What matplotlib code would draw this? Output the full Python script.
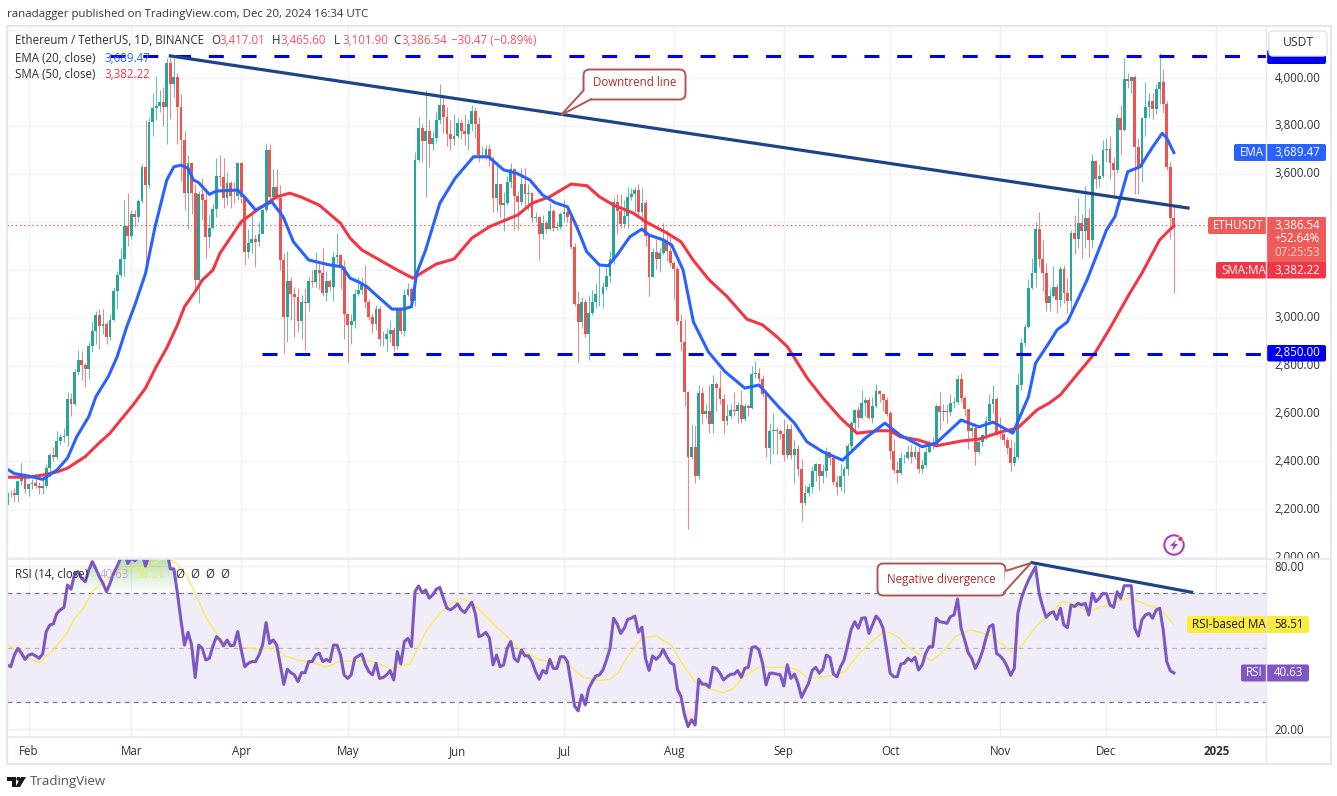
import datetime as dt
import matplotlib
matplotlib.use("Agg")
import matplotlib.pyplot as plt
import matplotlib.dates as mdates
import numpy as np
from matplotlib.patches import Rectangle, FancyBboxPatch, Polygon, Circle
from matplotlib.path import Path
from matplotlib.transforms import Bbox, ScaledTranslation

# ---------- daily data (Jan 26 .. Dec 20, 2024) ----------
closes = [
 2267,2268,2258,2317,2343,2283,
 2304,2310,2298,2290,2298,2373,2425,2420,2486,2503,2507,2660,2640,2775,2823,2803,2785,2880,2945,3012,2967,2972,2920,2990,3112,3177,3244,3384,3340,
 3433,3420,3487,3630,3555,3818,3875,3883,3900,3878,4063,3975,4006,3881,3742,3522,3645,3522,3157,3516,3490,3335,3375,3452,3590,3587,3500,3561,3510,3508,3645,
 3505,3275,3312,3330,3317,3350,3450,3700,3505,3545,3500,3240,3005,3155,3100,3085,2985,3065,3060,3155,3147,3200,3185,3105,3155,3130,3255,3260,3210,3014,
 2970,2988,3100,3117,3135,3065,3005,2975,3036,2910,2912,2930,2950,2880,3035,2945,3095,3120,3070,3660,3790,3737,3780,3725,3750,3825,3890,3840,3765,3745,3760,
 3815,3780,3765,3810,3865,3810,3680,3680,3705,3665,3500,3560,3470,3478,3565,3620,3510,3485,3560,3515,3520,3415,3420,3350,3395,3370,3445,3375,3380,3435,
 3440,3420,3296,3057,2982,3065,2931,3020,3065,3100,3100,3130,3175,3245,3485,3445,3390,3425,3505,3515,3535,3440,3480,3340,3170,3275,3245,3270,3320,3280,3230,
 3205,2985,2900,2690,2420,2460,2340,2685,2600,2610,2555,2725,2705,2660,2570,2590,2615,2610,2635,2575,2630,2625,2765,2770,2745,2680,2455,2525,2530,2525,2515,
 2425,2535,2425,2450,2370,2225,2270,2295,2360,2390,2340,2360,2440,2415,2315,2295,2340,2370,2465,2560,2615,2580,2645,2655,2580,2630,2695,2680,2658,2600,
 2445,2365,2350,2415,2415,2440,2420,2440,2370,2385,2440,2475,2470,2630,2605,2610,2605,2645,2650,2745,2665,2620,2525,2540,2440,2480,2510,2570,2640,2660,2520,
 2515,2490,2455,2395,2420,2720,2895,2960,3125,3185,3370,3245,3185,3060,3090,3130,3075,3205,3105,3070,3355,3330,3395,3360,3415,3325,3655,3580,3590,3700,
 3705,3645,3615,3835,3785,3996,3990,4005,3713,3630,3835,3880,3905,3870,3955,3985,3892,3628,3417,3386.54]
highs = [
 2275,2280,2290,2320,2393,2350,
 2310,2325,2325,2315,2335,2390,2435,2460,2525,2515,2540,2690,2685,2785,2865,2860,2810,2900,2985,3030,3035,3035,2985,3015,3130,3195,3290,3490,3520,
 3450,3450,3495,3640,3825,3840,3938,4010,3950,3965,4085,4090,4085,4020,3935,3780,3680,3615,3560,3530,3585,3540,3430,3480,3665,3680,3665,3610,3570,3565,3650,
 3650,3510,3370,3445,3350,3400,3455,3730,3725,3620,3620,3555,3270,3280,3170,3130,3125,3095,3125,3170,3200,3275,3230,3290,3195,3160,3275,3355,3265,3240,
 3020,3015,3120,3170,3170,3220,3080,3020,3055,3050,2945,2955,2990,2960,3045,3040,3120,3145,3130,3690,3840,3810,3950,3830,3780,3860,3975,3930,3880,3825,3850,
 3835,3830,3850,3830,3890,3880,3840,3715,3720,3720,3675,3655,3560,3525,3590,3645,3625,3530,3625,3625,3560,3525,3440,3425,3430,3410,3480,3455,3400,3440,
 3490,3465,3430,3310,3110,3085,3080,3095,3115,3145,3220,3150,3210,3280,3500,3515,3515,3490,3545,3540,3545,3560,3540,3490,3345,3290,3330,3290,3395,3365,3350,
 3235,3215,3015,2995,2695,2555,2550,2720,2710,2640,2720,2760,2730,2780,2680,2640,2640,2690,2650,2700,2645,2640,2800,2820,2790,2760,2700,2560,2600,2545,2535,
 2575,2555,2555,2490,2470,2410,2300,2310,2380,2395,2390,2390,2460,2425,2420,2340,2390,2380,2475,2570,2620,2630,2700,2670,2670,2670,2725,2700,2680,2670,
 2610,2495,2400,2440,2430,2470,2470,2465,2460,2410,2460,2490,2500,2640,2690,2640,2640,2680,2670,2760,2770,2675,2620,2560,2560,2490,2510,2590,2680,2720,2670,
 2585,2515,2500,2495,2480,2770,2915,2975,3160,3250,3400,3440,3325,3230,3125,3215,3140,3215,3220,3165,3365,3430,3500,3435,3550,3460,3683,3660,3640,3740,
 3750,3760,3670,3850,3890,4085,4023,4010,4012,3750,3840,3985,3940,3940,3975,4107,4040,3904,3650,3465.6]
lows = [
 2218,2250,2230,2232,2300,2270,
 2255,2285,2290,2265,2265,2290,2335,2400,2410,2470,2480,2465,2590,2630,2760,2740,2710,2745,2855,2890,2870,2930,2890,2905,2985,3035,3170,3175,3300,
 3330,3380,3400,3480,3200,3540,3760,3825,3860,3800,3725,3830,3920,3725,3570,3450,3370,3435,3120,3060,3410,3250,3290,3370,3420,3550,3460,3470,3460,3480,3490,
 3480,3220,3250,3270,3210,3300,3380,3440,3480,3480,3490,3200,2852,2900,2990,2920,2940,2910,2865,3030,3130,3130,3120,3090,3070,3110,3070,3230,3120,2910,
 2815,2890,2955,3090,3100,3040,2990,2935,2950,2880,2880,2860,2900,2860,2870,2930,2925,3090,3050,3050,3650,3650,3505,3630,3700,3730,3810,3770,3715,3700,3720,
 3750,3745,3720,3700,3780,3750,3650,3665,3660,3635,3440,3440,3420,3360,3470,3540,3365,3365,3470,3460,3450,3400,3400,3240,3330,3355,3365,3360,3365,3370,
 3400,3400,3285,3050,2815,2955,2920,2825,3010,3040,3050,3040,3115,3150,3225,3350,3375,3375,3375,3490,3440,3420,3400,3300,3090,3170,3205,3190,3265,3235,3215,
 3080,2975,2860,2630,2118,2410,2310,2325,2555,2580,2520,2520,2610,2640,2520,2550,2580,2590,2560,2560,2570,2590,2620,2750,2730,2670,2420,2390,2430,2430,2495,
 2400,2415,2410,2310,2340,2150,2220,2255,2270,2320,2280,2310,2335,2385,2300,2260,2275,2270,2345,2445,2530,2540,2575,2590,2575,2560,2625,2650,2610,2590,
 2410,2350,2310,2345,2395,2405,2395,2410,2350,2350,2375,2435,2450,2465,2530,2570,2560,2590,2625,2640,2650,2590,2452,2500,2385,2430,2465,2490,2555,2600,2505,
 2495,2470,2430,2358,2380,2410,2700,2880,2955,3120,3130,3210,3110,3030,3030,3085,3020,3045,3060,3020,3030,3265,3290,3250,3290,3255,3290,3540,3545,3585,
 3650,3580,3500,3605,3680,3780,3960,3940,3515,3515,3565,3760,3840,3830,3850,3892,3855,3615,3330,3101.9]
first_open = 2220
rsi_vals = [
 43.5,42.9,47.2,49.7,47.9,45.6,
 47.2,47.6,46.9,46,47.6,55.9,58.3,58.7,62.6,63.9,64.8,73.1,71.5,77.1,78,75.5,74.3,78.6,81.7,79,76.1,73.7,70.6,73.7,77.4,80,83,85,81,
 83,82,83.5,85,80,84,85,86,86,85,86,79,79,70,60,50.9,55.6,50.9,38.9,50.9,49.7,45.4,46,50.5,54,52.8,50.6,52.8,50.6,50.9,55.9,
 49.1,42.9,44.2,44.8,44.8,47.2,50.9,59.2,51.5,52.8,50.9,43.6,36.4,42,40.7,39.9,37.4,40.7,40.7,44.8,44.8,47.2,47.9,44.8,45.6,44.8,50.9,50.9,47.2,39.9,
 38.6,39.9,46,46.9,47.6,43.6,41.1,39.9,44.2,38.6,38.9,39.9,41.5,38,48.5,43.9,52.2,53.4,50.3,70.6,72.7,70.2,71.2,68.2,69.4,71.5,72.2,68.2,64.5,63.9,64.8,
 66.1,63.9,62.9,64.8,66.7,62.6,54,54.6,55.6,53.4,43.6,47.2,42.9,43.6,49.7,52.2,46,44.8,49.1,46.9,46.9,44.8,41.1,38.3,41.5,40.5,45.6,42.3,42.3,46.6,
 46.6,44.8,36.8,28.4,26.6,32.5,28.8,34.9,37.4,39.5,39.9,41.7,45.4,49.7,60.8,58.7,55.2,57.1,60.4,60.8,61.6,55.6,57.5,46,41.5,46.9,45.6,46.9,49.3,46.6,44.4,
 43.6,34.6,31.9,25.1,20.8,23.3,21.4,38.3,36.5,36.5,35.3,42.7,42.3,40.5,38,39.2,40.1,40.2,41.5,39,42.3,42.7,50,50.3,49.1,44.2,36.2,40.5,40.5,40.2,39.9,
 35.8,43.6,38.6,40.2,36.8,31.6,34.3,36.8,41.5,42.7,40.5,42,47.2,46.4,40.2,39.2,42.9,45.4,50.9,56.7,59.5,57.1,60.8,61,55.2,58.3,61.6,60.2,57.1,49.1,
 40.5,39.2,39.2,43.9,44.2,46,45,46.4,41.7,43.5,47.8,50.3,50.3,60.8,59.5,59.3,58.9,61.4,62,67.9,57.1,52.8,48.1,46,42.3,44.8,48.5,53.4,57.7,58.4,47.8,
 46.9,45.4,42.9,39.7,42.3,62.6,68.2,71.8,74.9,77.4,79.8,70,65.1,61.1,62.6,63.2,60.4,64.5,58.3,57.3,65.7,65.1,66.3,65.7,66.3,62,70,66.9,68.2,70,
 69.8,65.7,64.8,70.6,68.2,72.8,72.8,72.8,57.1,54.2,60.2,62,62.6,60.8,63.8,64.5,56.5,44.8,41.4,40.63]

# moving averages, read at selected days (days counted from Feb 1, 2024)
ema_days = [-6,-4,0,4,8,11,13.6,17,19,22.5,25,27.7,30,33,35.7,39,41,43,45,46.5,48,51,53,59,61,64,68.6,71.8,74.7,79,85,88.4,90.7,93,95.4,98,102.5,105.7,108,109.5,112,116,120.3,125.5,129.7,134,137.7,141.4,145,148.5,152,154.6,157.4,161,163.5,166,169.6,173,175,179,181.4,184.6,187.5,191.7,196.4,202,206,211.9,216,219.5,224,229.6,236,241.5,245.8,252,256,263,268,272,277.6,282,284,288,290,293,298.5,304,306.4,310,313.5,316.8,319.7,321,323]
ema_vals = [2368,2349,2339,2325,2364,2414,2503,2587,2670,2754,2837,2962,3053,3185,3380,3575,3630,3637,3624,3575,3564,3515,3529,3533,3503,3450,3484,3422,3317,3241,3220,3213,3165,3150,3130,3095,3036,3036,3046,3186,3283,3478,3582,3672,3672,3617,3603,3575,3512,3480,3463,3380,3276,3220,3217,3262,3338,3370,3345,3325,3303,3199,2983,2858,2775,2706,2719,2622,2560,2482,2440,2405,2497,2560,2510,2461,2477,2573,2544,2564,2518,2670,2810,2900,2948,2983,3157,3366,3422,3610,3630,3708,3770,3750,3689.47]
sma_days = [-6,0,4,8,11,16,20,23,26,29.5,33,36,39,42,44,47,49,52,54,60,64.5,70,73.7,77,82,88,90.7,94,104,108.4,115,120,125,130,138,142,147,153,157.5,161,165,170.5,174.5,180,184,187.4,192,197,202.6,207,211,214,219.6,224,229,233.6,240,243,245.8,251,256,263,268,274,279,284.4,288,291,295,300.8,305,310.6,314,319,322,323]
sma_vals = [2334,2334,2343,2356,2372,2420,2478,2518,2573,2636,2706,2795,2874,2970,3046,3109,3157,3199,3269,3401,3450,3505,3520,3503,3470,3394,3332,3283,3199,3165,3224,3245,3332,3380,3429,3478,3505,3558,3551,3505,3470,3437,3397,3354,3317,3241,3157,3088,2994,2970,2921,2879,2748,2665,2581,2518,2528,2528,2503,2489,2465,2485,2493,2522,2540,2615,2645,2678,2750,2853,2957,3103,3186,3325,3370,3382.22]
rsi_ma_days = [-6,-2.4,0,3.2,7,10.8,13,15.5,18.3,22,25.8,29.6,33.3,37,39,41.8,44.6,47,50.2,53,55.9,59.7,64.4,69.5,72.8,76.5,80.3,84,87.8,91.6,95.3,98.2,102,107.6,112.3,116,118.8,121.7,125,128.2,132,134.8,137.6,140.5,143.8,147,151.7,156.4,161,164,166.3,168.6,172.9,177,181.3,184.6,187.9,192.2,196,198.8,201.6,206.3,210,213.8,216.6,219.9,224.1,228,230.2,233.5,238.2,241.5,243.4,245.7,246.8,251.5,254.7,258,261.3,265.5,271,274.9,277.6,280.6,284.4,288,291.4,294.7,298.9,304,310.7,315.4,319,323]
rsi_ma_vals = [51.3,47.9,46,44.4,49.1,55.2,60.8,64.5,71.2,74.9,78,79.2,79.8,82.3,83,81,76.8,70,60.8,55.2,50.6,50.3,49.3,49.9,46.6,45.2,44.4,42.7,45,45,45.4,44.4,42,43.9,56.5,62.6,65.7,68.2,66.6,62.6,57.5,54.3,50.3,48.1,45.6,44.8,44.2,39,37.8,38.3,40.7,46,53.4,54.3,50.7,43.6,37.4,34.7,33.3,34.9,39.2,42.9,42.7,42.7,42,38.6,39.2,39.9,41.1,46.6,52.8,55.9,55.2,53.4,51.5,47.2,45.1,48.5,54,56.5,54.6,50.9,47.8,51.5,58.3,62,66.9,66.3,63.2,65.7,68.4,65.7,64.5,58.51]

price_ticks = [2000,2200,2400,2600,2800,3000,3200,3400,3600,3800,4000,4200]
hidden_price_labels = [3200,3400,4200]
rsi_ticks = [20,80]
month_ticks = ["2024-02-01","2024-03-01","2024-04-01","2024-05-01","2024-06-01","2024-07-01","2024-08-01","2024-09-01","2024-10-01","2024-11-01","2024-12-01","2025-01-01"]
month_labels = ["Feb","Mar","Apr","May","Jun","Jul","Aug","Sep","Oct","Nov","Dec","2025"]
top_level = 4093
support_level = 2850
last_close = 3386.54

# ---------- set-up ----------
W, H = 1337, 796
plt.rcParams['font.family'] = ['Open Sans', 'DejaVu Sans']
plt.rcParams['lines.scale_dashes'] = False
fig = plt.figure(figsize=(W/100, H/100), dpi=100, facecolor='white')

def box(x0, y0, x1, y1):
    return [x0/W, 1-y1/H, (x1-x0)/W, (y1-y0)/H]

UP, DOWN = '#26a69a', '#ef5350'
GRID = '#f2f3f7'
BLUE, RED = '#2962ff', '#f23645'
NAVY = '#1c4587'
PURPLE = '#7e57c2'
TXT = '#2a2e39'
FS = 8.3

base = mdates.date2num(dt.date(2024, 2, 1))
n = len(closes)
days = np.arange(n) - 6 + base
opens = [first_open] + closes[:-1]
X0 = base + (7-28.5)/3.546
X1 = base + (1266-28.5)/3.546
ticks_x = [mdates.date2num(dt.date.fromisoformat(d)) for d in month_ticks]

ax = fig.add_axes(box(7, 26, 1266, 558))
ar = fig.add_axes(box(7, 559, 1266, 736.5))

# ---------- price pane ----------
ax.set_xlim(X0, X1)
ax.set_ylim(4000-(558-78.2)/0.2395, 4000+(78.2-26)/0.2395)
ax.set_xticks(ticks_x)
ax.tick_params(axis='x', length=0, labelbottom=False)
ax.set_yticks(price_ticks)
ax.set_yticklabels(["" if v in hidden_price_labels else f"{v:,.2f}" for v in price_ticks], fontsize=FS, color=TXT)
ax.yaxis.tick_right()
ax.tick_params(axis='y', length=0, pad=6)
ax.grid(True, color=GRID, lw=1)
ax.set_axisbelow(True)
for s in ax.spines.values():
    s.set_visible(False)
for tl in ax.get_yticklabels():
    tl.set_transform(tl.get_transform() + ScaledTranslation(0, 1.2/72, fig.dpi_scale_trans))
    tl.set_clip_on(True)
    tl.set_clip_box(Bbox([[1267, H-558.5], [1330, H-26]]))

cols = [UP if c >= o else DOWN for o, c in zip(opens, closes)]
ax.vlines(days, lows, highs, colors=cols, lw=0.75, alpha=0.7, zorder=2)
ax.bar(days, np.abs(np.array(closes)-np.array(opens)), bottom=np.minimum(opens, closes),
       width=0.8, color=cols, lw=0, zorder=3)
ax.axhline(last_close, color=DOWN, lw=0.8, ls=(0, (1, 2)), zorder=2)
ax.plot(base+np.array(sma_days), sma_vals, color=RED, lw=2.2, zorder=4, solid_joinstyle='round')
ax.plot(base+np.array(ema_days), ema_vals, color=BLUE, lw=2.2, zorder=4, solid_joinstyle='round')
ax.plot([base+23, X1], [top_level]*2, color='#0000e6', lw=2.2, ls=(0, (10.8, 12.8)), dash_capstyle='butt', zorder=5)
ax.plot([base+65.8, X1], [support_level]*2, color='#0000e6', lw=2.2, ls=(0, (10.8, 12.8)), dash_capstyle='butt', zorder=5)
ax.plot([base+40, base+327], [top_level, 3458], color=NAVY, lw=2.3, zorder=5)

# ---------- RSI pane ----------
rsi = np.array(rsi_vals)
ar.set_xlim(X0, X1)
ar.set_ylim(80-(736.5-566.2)/2.71, 80+(566.2-559)/2.71)
ar.axhspan(30, 70, color=PURPLE, alpha=0.10, lw=0, zorder=0)
ar.set_xticks(ticks_x)
ar.set_xticklabels(month_labels, fontsize=FS, color=TXT)
ar.get_xticklabels()[-1].set_fontweight('bold')
ar.tick_params(axis='x', length=0, pad=6)
ar.set_yticks(rsi_ticks)
ar.set_yticklabels([f"{v:.2f}" for v in rsi_ticks], fontsize=FS, color=TXT)
ar.yaxis.tick_right()
ar.tick_params(axis='y', length=0, pad=6)
ar.grid(True, color='#eeeff4', lw=1)
ar.set_axisbelow(True)
for lvl in (40, 60):
    ar.axhline(lvl, color='#eeeff4', lw=1, zorder=0.5)
for s in ar.spines.values():
    s.set_visible(False)
for lvl, c in ((70, '#787b86'), (30, '#787b86'), (50, '#b4b6bd')):
    ar.axhline(lvl, color=c, lw=0.9, ls=(0, (3.5, 3)), zorder=1)

def gradient(top, bottom, rgb, a_top, a_bot, lower, upper):
    poly = ar.fill_between(days, lower, upper, color='none', lw=0)
    path = Path.make_compound_path(*poly.get_paths())
    g = np.zeros((64, 2, 4))
    g[..., :3] = rgb
    g[..., 3] = np.linspace(a_top, a_bot, 64)[:, None]
    im = ar.imshow(g, extent=(X0, X1, bottom, top), aspect='auto', zorder=1, origin='upper', interpolation='bilinear')
    im.set_clip_path(path, transform=ar.transData)

gradient(85, 70, (0.30, 0.69, 0.31), 0.50, 0.0, 70, np.maximum(rsi, 70))
gradient(30, 20, (0.95, 0.25, 0.25), 0.0, 0.30, np.minimum(rsi, 30), 30)
ar.set_xlim(X0, X1)
ar.set_ylim(80-(736.5-566.2)/2.71, 80+(566.2-559)/2.71)

ar.plot(base+np.array(rsi_ma_days), rsi_ma_vals, color='#fde95c', lw=1.0, zorder=3)
ar.plot(days, rsi, color=PURPLE, lw=2.2, zorder=4, solid_joinstyle='round')
ar.plot([base+283, base+328], [81.3, 70.4], color=NAVY, lw=2.3, zorder=5)

# ---------- overlay in pixels: frame, labels, notes ----------
ov = fig.add_axes([0, 0, 1, 1], zorder=10)
ov.set_xlim(0, W)
ov.set_ylim(H, 0)
ov.axis('off')
ov.patch.set_alpha(0)

FRAME = '#e6e8f0'
ov.add_patch(Rectangle((7, 25.5), 1324, 738, fc='none', ec=FRAME, lw=1.6))
ov.plot([7, 1331], [558.5, 558.5], color=FRAME, lw=1.2)
ov.plot([7, 1331], [737, 737], color=FRAME, lw=1.2)
ov.plot([1266, 1266], [25.5, 764], color=FRAME, lw=1.0)

def label(x0, y0, x1, y1, color, **kw):
    ov.add_patch(FancyBboxPatch((x0+2, y0+2), x1-x0-4, y1-y0-4,
                                boxstyle="round,pad=2,rounding_size=2", fc=color, ec='none', **kw))

def t(x, y, s, color=TXT, size=FS, ha='left', **kw):
    ov.text(x, y, s, color=color, fontsize=size, ha=ha, va='center', **kw)

# header
t(7, 14, "ranadagger published on TradingView.com, Dec 20, 2024 16:34 UTC", color='#333742', size=FS-0.05)
t(15, 41, "Ethereum / TetherUS, 1D, BINANCE")
VAL = '#f7525f'
for x, k, v in ((211, "O", "3,417.01"), (272, "H", "3,465.60"), (334, "L", "3,101.90"), (393, "C", "3,386.54")):
    t(x, 41, k)
    t(x+8, 41, v, color=VAL)
t(451, 41, "−30.47 (−0.89%)", color=VAL)
t(15, 58, "EMA (20, close)")
t(104, 58, "3,689.47", color=BLUE)
t(15, 75, "SMA (50, close)")
t(104, 75, "3,382.22", color=RED)
t(15, 574, "RSI (14, close)")
t(100, 574, "40.63", color='#b7a5e0')
t(135, 574, "58.51", color='#f7e95a')
for x in (175, 190, 205, 220):
    t(x, 574, "Ø")

# right-hand labels
label(1267, 50, 1326, 64, '#0000ee')
ov.add_patch(FancyBboxPatch((1271, 33), 54, 21, boxstyle="round,pad=2,rounding_size=4", fc='white', ec='#e0e3eb', lw=1))
t(1298, 43, "USDT", ha='center', size=FS+0.4)
label(1234, 144, 1326, 161, BLUE)
t(1240, 152.5, "EMA", color='white')
t(1274, 152.5, "3,689.47", color='white')
label(1208, 217, 1326, 234, '#ef5b58')
label(1266, 217, 1326, 264, '#ef5b58')
t(1213, 225.5, "ETHUSDT", color='white')
t(1274, 225.5, "3,386.54", color='white')
t(1274, 239, "+52.64%", color='white')
t(1274, 253, "07:25:53", color='#fbd0cf')
label(1216, 262, 1326, 278.5, RED)
t(1221, 270, "SMA:MA", color='white')
t(1274, 270, "3,382.22", color='white')
label(1267, 345, 1326, 361.5, '#0000ee')
t(1274, 353, "2,850.00", color='white')
label(1187, 616, 1309, 633, '#ffeb3b')
t(1192, 624.5, "RSI-based MA", color='#131722')
t(1274, 624.5, "58.51", color='#131722')
label(1241, 664.5, 1309, 681.5, PURPLE)
t(1246, 673, "RSI", color='white')
t(1274, 673, "40.63", color='white')

# call-outs
EDGE = '#b25656'
ov.add_patch(FancyBboxPatch((587, 73), 95, 23, boxstyle="round,pad=3.5,rounding_size=6", fc='#fffdfd', ec=EDGE, lw=1.4, zorder=6))
ov.add_patch(Polygon([(584, 90), (561, 115), (592, 98.7)], closed=False, fc='#fffdfd', ec=EDGE, lw=1.4, zorder=7))
t(634.5, 83, "Downtrend line", color='#a92f2f', ha='center', zorder=8)
ov.add_patch(FancyBboxPatch((881, 567), 121, 25, boxstyle="round,pad=3.5,rounding_size=6", fc='#fffdfd', ec=EDGE, lw=1.4, zorder=6))
ov.add_patch(Polygon([(1005.5, 571), (1031, 563), (1003, 593.5)], closed=False, fc='#fffdfd', ec=EDGE, lw=1.4, zorder=7))
t(941.5, 579, "Negative divergence", color='#a92f2f', ha='center', zorder=8)

# lightning icon
ov.add_patch(Circle((1174, 545), 9.7, fc='white', ec='#a63fc4', lw=1.5))
ov.add_patch(Polygon([(1176, 539.5), (1170, 546), (1173.5, 546), (1172, 551), (1178, 544), (1174.5, 544)], fc='#a63fc4', ec='none'))
ov.add_patch(Circle((1180.5, 539), 2.6, fc='#f23645', ec='white', lw=0.5))

# footer logo
LOGO = '#131722'
ov.add_patch(Polygon([(7, 777), (16, 777), (16, 787), (12, 787), (12, 780.5), (7, 780.5)], fc=LOGO, ec='none'))
ov.add_patch(Circle((18.4, 778.9), 2.0, fc=LOGO, ec='none'))
ov.add_patch(Polygon([(21, 777), (26, 777), (20, 787), (15.5, 787)], fc=LOGO, ec='none'))
t(30, 781.5, "TradingView", color='#50535e', size=FS+1.2)

fig.savefig("out.png", dpi=100)
